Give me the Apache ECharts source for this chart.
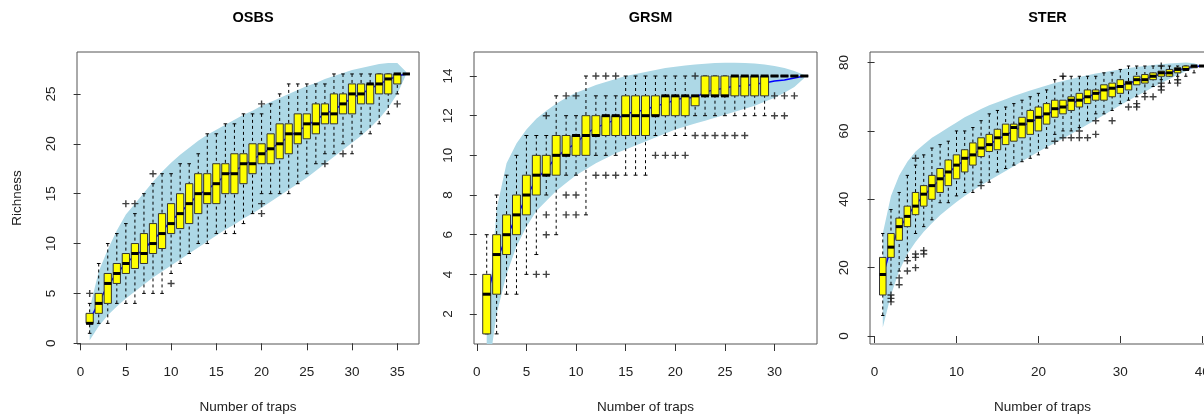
<!DOCTYPE html>
<html lang="en">
<head>
<meta charset="UTF-8" />
<title>Richness vs number of traps</title>
<script src="https://cdn.jsdelivr.net/npm/echarts@6/dist/echarts.min.js"></script>
<style>
  * { margin: 0; padding: 0; }
  body { background: #fff; }
  #chart { width: 1204px; height: 415px; }
</style>
</head>
<body>
<div id="chart"></div>
<script>
// ---- OSBS ----
const osbsLo  = [1,2,2,4,4,4,5,5,5,7,8,9,10,10,11,11,11,12,13,15,15,15,15,16,17,18,19,19,20,19,21,21,22,23,25,27];
const osbsQ1  = [2,3,4,6,7,7.5,8,9,9.5,11,11.5,12,13,14,14,15,15,16,17,18,18,18.5,19,20,20.5,21,22,22,23,23,24,24,25,25,26,27];
const osbsMed = [2,4,6,7,8,9,9,10,11,12,13,14,15,15,16,17,17,18,18,19,19.5,20,21,21,22,22,23,23,24,25,25,26,26,26.5,27,27];
const osbsQ3  = [3,5,7,8,9,10,11,12,13,14,15,16,17,17,18,18,19,19,20,20,21,22,22,23,23,24,24,25,25,26,26,26,27,27,27,27];
const osbsHi  = [4,8,10,11,12,13,15,16,17,17,18,18,19,21,21,22,22,23,23,23,24,25,26,26,26,26,26,27,27,27,27,27,27,27,27,27];
const osbsMean = [2.3,4.1,5.8,7,8,8.8,9.4,10.4,11.2,12.3,13.1,14,14.9,15.4,16.1,16.8,17.3,17.8,18.4,19,19.5,20.1,20.7,21.3,21.8,22.4,23,23.4,24,24.6,25,25.5,26,26.4,26.8,27];
const osbsBandHi = [3.5,7.2,9.4,11.3,12.9,14,15.1,16.2,17.2,18.1,18.9,19.6,20.3,20.9,21.4,21.9,22.4,22.9,23.3,23.8,24.2,24.6,25,25.4,25.8,26.1,26.5,26.8,27.1,27.4,27.6,27.8,28,28.1,28.1,27.2];
const osbsBandLo = [0.3,1.7,2.8,3.7,4.5,5.2,5.9,6.6,7.2,7.8,8.4,9,9.6,10.2,10.8,11.4,11.9,12.5,13,13.6,14.2,14.8,15.4,16,16.6,17.3,18,18.7,19.4,20.1,20.8,21.6,22.5,23.6,25,27];
const osbsOut = [[1,5],[5,14],[6,14],[8,17],[10,6],[20,24],[20,14],[20,13],[27,18],[29,19],[35,24]];

// ---- GRSM ----
const grsmLo  = [1,1,3,3,4,5,8,6,9,9,7,10,10,10,9,9,9,11,11,11,11,12,12,12,12,12,12,12,12,14,14,14,14];
const grsmQ1  = [1,3,5,6,7,8,9,9,10,10,10,11,11,11,11,11,11,12,12,12,12,12.5,13,13,13,13,13,13,13,14,14,14,14];
const grsmMed = [3,5,6,7,8,9,9,10,10,11,11,11,12,12,12,12,12,12,13,13,13,13,13,13,13,14,14,14,14,14,14,14,14];
const grsmQ3  = [4,6,7,8,9,10,10,11,11,11,12,12,12,12,13,13,13,13,13,13,13,13,14,14,14,14,14,14,14,14,14,14,14];
const grsmHi  = [6,8,9,10,11,11,11,13,12,12,14,13,13,13,14,14,14,14,14,14,14,13,14,14,14,14,14,14,14,14,14,14,14];
const grsmMean = [2.9,4.7,5.9,6.9,7.9,8.8,9.3,9.9,10.3,10.6,11.1,11.4,11.6,11.8,12.1,12.2,12.3,12.5,12.6,12.8,12.9,12.9,13.2,13.3,13.4,13.5,13.5,13.6,13.65,13.75,13.8,13.9,14];
const grsmBandHi = [1,7.3,9.6,10.6,11.3,11.85,12.25,12.6,12.9,13.15,13.35,13.55,13.7,13.85,14,14.1,14.2,14.3,14.4,14.47,14.53,14.58,14.62,14.65,14.67,14.67,14.66,14.63,14.58,14.5,14.4,14.25,14.05];
const grsmBandLo = [-1.5,2,4,5.4,6.4,7.2,7.7,8.2,8.6,9,9.3,9.6,9.85,10.1,10.3,10.5,10.7,10.9,11.1,11.3,11.45,11.6,11.75,11.9,12.05,12.2,12.35,12.5,12.7,12.9,13.15,13.45,13.9];
const grsmOut = [[6,4],[7,4],[7,12],[7,7],[7,6],[9,13],[10,13],[9,8],[10,8],[9,7],[10,7],
  [12,14],[13,14],[14,14],[12,9],[13,9],[14,9],[18,10],[19,10],[20,10],[21,10],[22,14],
  [22,11],[23,11],[24,11],[25,11],[26,11],[27,11],[30,13],[31,13],[32,13],[30,12],[31,12]];

// ---- STER ----
const sterLo  = [6,15,19,23,30,32,34,39,39,41,42,42,45,45,48,49,50,51,52,53,55,59,60,60,61,63,65,65,66,68,69,70,71,73,75,74,76,76,77,79];
const sterQ1  = [12,23,28,32,35.5,38,40,42,44,46,48,50,52.5,54,54.5,56,57,58,59,60,62,64,65,66,67,68,69,69,70,71,72,73.5,74,75,76,76,77,78,78.5,79];
const sterMed = [18,26,32,35,38,41.5,44,46,48,50,52,53,55,56,58,59,61,62,63,64,65,66.5,67,69,69,70,71,72,72.5,73,74,75,75,76,77,77,78,78,79,79];
const sterQ3  = [23,30,34.5,38,42,44,47,49,51.5,53,54.5,56.5,58,59,60.5,62,62,64,66,67,68,69,69,70,71,72,72,73.5,74,75,74.5,76,76.5,77,77.5,78,78.5,79,79,79];
const sterHi  = [30,37,42,47,50,53,55,56,57,60,60,61,63,65,66,67,68,69,70,71,72,75,76,76,76,76,76,77,77,78,79,79,79,79,79,79,79,79,79,79];
const sterMean = [17.5,26,31.5,35,38.5,41,43.5,45.8,47.8,49.7,51.5,53,54.7,56,57.5,58.8,60,61.3,62.5,63.7,64.8,66,67,68,69,70,70.8,71.6,72.4,73.2,74,74.7,75.3,76,76.6,77.2,77.8,78.3,78.8,79];
const sterBandHi = [30,41,47,51,54,56,58,59.5,61,62.5,64,65.2,66.4,67.5,68.4,69.3,70.2,71,71.8,72.6,73.3,74,74.6,75.2,75.8,76.3,76.8,77.2,77.6,78,78.4,78.7,79,79.3,79.5,79.7,79.9,80,79.8,79];
const sterBandLo = [2.5,12,19,24,27.5,30.5,33,35.3,37.3,39.2,41,42.6,44.1,45.5,46.9,48.3,49.7,51.1,52.5,53.9,55.2,56.5,57.8,59.1,60.5,61.9,63.3,64.7,66.1,67.5,68.9,70.2,71.5,72.8,74,75.2,76.4,77.5,78.4,79];
const sterOut = [[2,12],[2,11],[2,10],[3,17],[3,15],[4,22],[4,19],[5,52],[5,24],[5,23],[5,20],[6,25],[6,24],
  [13,44],[22,57],[23,76],[23,58],[24,58],[25,60],[25,58],[26,58],[27,63],[27,59],[29,63],
  [31,67],[32,68],[32,67],[33,70],[34,70],[35,79],[35,74],[35,73],[35,72],[37,75],[37,74]];

// axis ticks
const osbsXTicks = [0,5,10,15,20,25,30,35];
const osbsYTicks = [0,5,10,15,20,25];
const grsmXTicks = [0,5,10,15,20,25,30];
const grsmYTicks = [2,4,6,8,10,12,14];
const sterXTicks = [0,10,20,30,40];
const sterYTicks = [0,20,40,60,80];

const panels = [
  { title: 'OSBS', lo: osbsLo, q1: osbsQ1, med: osbsMed, q3: osbsQ3, hi: osbsHi, mean: osbsMean,
    bandHi: osbsBandHi, bandLo: osbsBandLo, out: osbsOut, xt: osbsXTicks, yt: osbsYTicks,
    left: 77, width: 342, xMin: -0.4, xMax: 37.4, yMin: -0.07, yMax: 29.2, ylabel: 'Richness' },
  { title: 'GRSM', lo: grsmLo, q1: grsmQ1, med: grsmMed, q3: grsmQ3, hi: grsmHi, mean: grsmMean,
    bandHi: grsmBandHi, bandLo: grsmBandLo, out: grsmOut, xt: grsmXTicks, yt: grsmYTicks,
    left: 474, width: 343, xMin: -0.28, xMax: 34.28, yMin: 0.49, yMax: 15.21, ylabel: '' },
  { title: 'STER', lo: sterLo, q1: sterQ1, med: sterMed, q3: sterQ3, hi: sterHi, mean: sterMean,
    bandHi: sterBandHi, bandLo: sterBandLo, out: sterOut, xt: sterXTicks, yt: sterYTicks,
    left: 870, width: 345, xMin: -0.56, xMax: 41.56, yMin: -2.34, yMax: 83.1, ylabel: '' }
];

const TOP = 52, HEIGHT = 292;
const FONT = 'Liberation Sans, Arial, sans-serif';
const textCol = '#222';
const plus = 'path://M4,0H6V4H10V6H6V10H4V6H0V4H4Z';

const grids = [], xAxes = [], yAxes = [], titles = [], series = [];

panels.forEach((pn, i) => {
  grids.push({ left: pn.left, top: TOP, width: pn.width, height: HEIGHT, outerBoundsMode: 'none',
    show: true, borderColor: '#555', borderWidth: 1, backgroundColor: 'transparent' });

  titles.push({ text: pn.title, left: pn.left + pn.width / 2, top: 5, textAlign: 'center',
    textStyle: { fontFamily: FONT, fontWeight: 'bold', fontSize: 14.5, color: '#000' } });

  xAxes.push({
    type: 'value', gridIndex: i, min: pn.xMin, max: pn.xMax,
    axisLine: { show: false }, splitLine: { show: false },
    axisTick: { show: true, customValues: pn.xt, length: 7, lineStyle: { color: '#333' } },
    axisLabel: { customValues: pn.xt, margin: 21, fontSize: 13.5, color: textCol, fontFamily: FONT },
    name: 'Number of traps', nameLocation: 'middle', nameGap: 56,
    nameTextStyle: { fontSize: 13.5, color: textCol, fontFamily: FONT }
  });

  yAxes.push({
    type: 'value', gridIndex: i, min: pn.yMin, max: pn.yMax,
    axisLine: { show: false }, splitLine: { show: false },
    axisTick: { show: true, customValues: pn.yt, length: 7, lineStyle: { color: '#333' } },
    axisLabel: { customValues: pn.yt, margin: 19, rotate: 90, fontSize: 13.5, color: textCol, fontFamily: FONT },
    name: pn.ylabel, nameLocation: 'middle', nameGap: 53, nameRotate: 90,
    nameTextStyle: { fontSize: 13.5, color: textCol, fontFamily: FONT }
  });

  const ks = pn.med.map((_, j) => j + 1);

  // shaded envelope
  series.push({
    type: 'custom', xAxisIndex: i, yAxisIndex: i, clip: true, z: 1, silent: true,
    data: [[1, pn.bandHi[0]]],
    renderItem: (params, api) => {
      const pts = [];
      ks.forEach((k, j) => pts.push(api.coord([k, pn.bandHi[j]])));
      for (let j = ks.length - 1; j >= 0; j--) pts.push(api.coord([ks[j], pn.bandLo[j]]));
      return { type: 'polygon', shape: { points: pts }, style: { fill: '#ADD8E6', stroke: null } };
    }
  });

  // mean line
  series.push({
    type: 'line', xAxisIndex: i, yAxisIndex: i, z: 2, silent: true,
    data: ks.map((k, j) => [k, pn.mean[j]]),
    showSymbol: false, lineStyle: { color: '#0000FF', width: 1.5 }
  });

  // R style boxes
  series.push({
    type: 'custom', xAxisIndex: i, yAxisIndex: i, z: 3, silent: true,
    data: ks.map((k, j) => [k, pn.lo[j], pn.q1[j], pn.med[j], pn.q3[j], pn.hi[j]]),
    encode: { x: 0, y: [1, 2, 3, 4, 5] },
    renderItem: (params, api) => {
      const k = api.value(0), lo = api.value(1), q1 = api.value(2);
      const md = api.value(3), q3 = api.value(4), hi = api.value(5);
      const c = (x, y) => api.coord([x, y]);
      const seg = (x1, y1, x2, y2, style) => {
        const a = c(x1, y1), b = c(x2, y2);
        return { type: 'line', shape: { x1: a[0], y1: a[1], x2: b[0], y2: b[1] }, style: style };
      };
      const dash = { stroke: '#000', lineWidth: 1, lineDash: [3, 3] };
      const solid = { stroke: '#000', lineWidth: 1 };
      const tl = c(k - 0.4, q3), br = c(k + 0.4, q1);
      return {
        type: 'group',
        children: [
          seg(k, hi, k, q3, dash),
          seg(k, lo, k, q1, dash),
          seg(k - 0.2, hi, k + 0.2, hi, solid),
          seg(k - 0.2, lo, k + 0.2, lo, solid),
          { type: 'rect', shape: { x: tl[0], y: tl[1], width: br[0] - tl[0], height: br[1] - tl[1] },
            style: { fill: '#FFFF00', stroke: '#333', lineWidth: 1 } },
          seg(k - 0.4, md, k + 0.4, md, { stroke: '#000', lineWidth: 3 })
        ]
      };
    }
  });

  // outliers
  series.push({
    type: 'scatter', xAxisIndex: i, yAxisIndex: i, z: 4, silent: true,
    data: pn.out, symbol: plus, symbolSize: 7,
    itemStyle: { color: '#111' }
  });
});

const chart = echarts.init(document.getElementById('chart'));
chart.setOption({
  animation: false,
  title: titles,
  grid: grids,
  xAxis: xAxes,
  yAxis: yAxes,
  series: series
});
</script>
</body>
</html>
